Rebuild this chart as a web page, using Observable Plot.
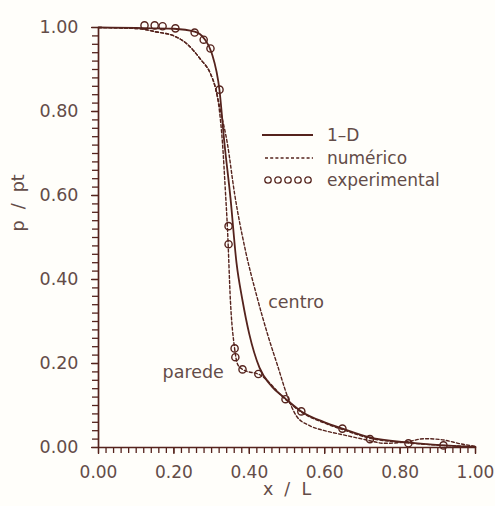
<!DOCTYPE html>
<html>
<head>
<meta charset="utf-8">
<script src="https://cdn.jsdelivr.net/npm/d3@7"></script>
<script src="https://cdn.jsdelivr.net/npm/@observablehq/plot@0.6"></script>
<style>
  html, body { margin: 0; padding: 0; background: #fffefa; }
  #wrap { position: relative; width: 495px; height: 506px; font-family: "DejaVu Sans", sans-serif; color: #634c48; }
  #legend { position: absolute; left: 262px; top: 124px; font-size: 17px; }
  #legend .row { display: flex; align-items: center; height: 22.5px; }
  #legend svg { margin-right: 14px; }
</style>
</head>
<body>
<div id="wrap"></div>
<script>
// ---- data ----
const majorTicks = [0, 0.2, 0.4, 0.6, 0.8, 1.0];
const minorTicks = d3.range(0, 51).map(i => +(i * 0.02).toFixed(2));

// 1-D model (solid)
const solidX = [0, 0.10, 0.20, 0.255, 0.28, 0.30, 0.321, 0.334, 0.35, 0.366, 0.382, 0.40, 0.427, 0.46, 0.495, 0.538, 0.60, 0.647, 0.72, 0.82, 0.915, 1.0];
const solidP = [1.0, 0.999, 0.997, 0.99, 0.974, 0.94, 0.85, 0.725, 0.595, 0.44, 0.35, 0.27, 0.19, 0.145, 0.117, 0.086, 0.06, 0.045, 0.024, 0.012, 0.005, 0.001];

// numerical, wall ("parede", dashed)
const paredeX = [0, 0.11, 0.15, 0.20, 0.236, 0.27, 0.297, 0.31, 0.321, 0.329, 0.337, 0.342, 0.35, 0.361, 0.369, 0.382, 0.43, 0.493, 0.54, 0.60, 0.65, 0.72, 0.82, 0.915, 1.0];
const paredeP = [1.0, 0.997, 0.99, 0.98, 0.96, 0.925, 0.89, 0.857, 0.80, 0.723, 0.604, 0.523, 0.348, 0.236, 0.198, 0.186, 0.172, 0.117, 0.083, 0.058, 0.042, 0.022, 0.011, 0.005, 0.002];

// numerical, centre ("centro", dashed)
const centroX = [0, 0.11, 0.15, 0.20, 0.236, 0.27, 0.297, 0.31, 0.324, 0.342, 0.361, 0.39, 0.42, 0.45, 0.475, 0.50, 0.525, 0.56, 0.60, 0.65, 0.706, 0.759, 0.82, 0.865, 0.907, 0.97, 1.0];
const centroP = [1.0, 0.997, 0.99, 0.98, 0.96, 0.925, 0.89, 0.857, 0.80, 0.723, 0.604, 0.468, 0.36, 0.265, 0.195, 0.125, 0.075, 0.052, 0.04, 0.03, 0.019, 0.01, 0.014, 0.021, 0.019, 0.007, 0.003];

// experimental (circles)
const expX = [0.122, 0.149, 0.170, 0.204, 0.255, 0.279, 0.297, 0.321, 0.345, 0.345, 0.361, 0.363, 0.382, 0.424, 0.496, 0.538, 0.647, 0.72, 0.822, 0.915];
const expP = [1.005, 1.005, 1.003, 0.998, 0.988, 0.971, 0.95, 0.852, 0.527, 0.484, 0.236, 0.215, 0.186, 0.175, 0.115, 0.086, 0.045, 0.02, 0.01, 0.005];

// curve annotations
const annoText = ["parede", "centro"];
const annoX = [0.17, 0.45];
const annoP = [0.18, 0.345];

const legendLabels = ["1\u2013D", "num\u00e9rico", "experimental"];

// ---- build ----
const ink = "#55231d";
const txt = "#634c48";
const zip = (xs, ys) => xs.map((x, i) => ({x, p: ys[i]}));

const chart = Plot.plot({
  width: 495,
  height: 506,
  marginLeft: 98,
  marginRight: 20,
  marginTop: 27,
  marginBottom: 59,
  x: {domain: [0, 1]},
  y: {domain: [0, 1]},
  style: {background: "transparent", fontFamily: "DejaVu Sans, sans-serif", fontSize: "17px", color: txt, overflow: "visible"},
  marks: [
    Plot.axisX({ticks: minorTicks, tickSize: 6, tickFormat: () => "", stroke: ink, strokeWidth: 1.3, label: null}),
    Plot.axisX({ticks: majorTicks, tickSize: 7, tickPadding: 11, tickFormat: d3.format(".2f"), stroke: ink, strokeWidth: 1.3, fill: txt, fontSize: 17, label: null}),
    Plot.axisY({ticks: minorTicks, tickSize: 6, tickFormat: () => "", stroke: ink, strokeWidth: 1.3, label: null}),
    Plot.axisY({ticks: majorTicks, tickSize: 7, tickPadding: 13, tickFormat: d3.format(".2f"), stroke: ink, strokeWidth: 1.3, fill: txt, fontSize: 17.5, label: null}),
    Plot.ruleY([0], {stroke: ink, strokeWidth: 1.7}),
    Plot.ruleX([0], {stroke: ink, strokeWidth: 1.7}),
    Plot.text(["x  /  L"], {frameAnchor: "bottom", dy: 47, fill: txt, fontSize: 17.5}),
    Plot.text(["p  /  pt"], {frameAnchor: "left", dx: -80, dy: -6, rotate: -90, fill: txt, fontSize: 17.5}),
    Plot.line(zip(paredeX, paredeP), {x: "x", y: "p", curve: "monotone-x", stroke: ink, strokeWidth: 1.4, strokeDasharray: "3,2.2"}),
    Plot.line(zip(centroX, centroP), {x: "x", y: "p", curve: "monotone-x", stroke: ink, strokeWidth: 1.4, strokeDasharray: "3,2.2"}),
    Plot.line(zip(solidX, solidP), {x: "x", y: "p", curve: "monotone-x", stroke: ink, strokeWidth: 1.8}),
    Plot.dot(zip(expX, expP), {x: "x", y: "p", r: 3.6, stroke: ink, strokeWidth: 1.4, fill: "none"}),
    Plot.text(annoText.map((t, i) => ({t, x: annoX[i], p: annoP[i]})), {x: "x", y: "p", text: "t", fill: txt, fontSize: 17.5, textAnchor: "start"})
  ]
});

const wrap = document.getElementById("wrap");
wrap.appendChild(chart);

// legend (HTML overlay)
const legend = document.createElement("div");
legend.id = "legend";
const swatches = [
  `<svg width="51" height="10"><line x1="0" x2="51" y1="5" y2="5" stroke="${ink}" stroke-width="1.8"/></svg>`,
  `<svg width="51" height="10"><line x1="3" x2="51" y1="5" y2="5" stroke="${ink}" stroke-width="1.4" stroke-dasharray="3,2.2"/></svg>`,
  `<svg width="51" height="10">${d3.range(5).map(i => `<circle cx="${6 + i * 10}" cy="5" r="3.2" fill="none" stroke="${ink}" stroke-width="1.3"/>`).join("")}</svg>`
];
legend.innerHTML = legendLabels.map((l, i) => `<div class="row">${swatches[i]}<span>${l}</span></div>`).join("");
wrap.appendChild(legend);
</script>
</body>
</html>
